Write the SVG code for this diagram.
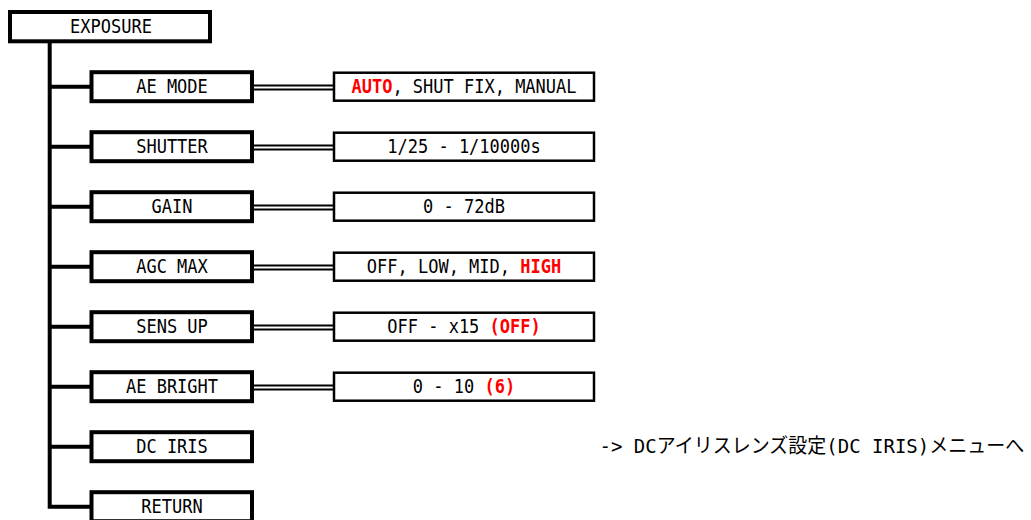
<svg xmlns="http://www.w3.org/2000/svg" width="1031" height="520" viewBox="0 0 1031 520">
<style>
.box{fill:#fff;stroke:#000;stroke-width:4}
.vbox{fill:#fff;stroke:#000;stroke-width:2.5}
.t{font-family:"DejaVu Sans Mono","Liberation Mono","Noto Sans CJK JP",monospace;font-size:20px;fill:#000}
.r{fill:#f00;font-weight:bold}
.dl{stroke:#000;stroke-width:2;fill:none}
.br{stroke:#000;stroke-width:4;fill:none}
</style>
<rect width="1031" height="520" fill="#fff"/>
<g id="connectors">
<path class="br" d="M49.7,41 V506.7 H92" stroke-linejoin="miter"/>
<line class="br" x1="49.7" y1="86.7" x2="92" y2="86.7"/>
<line class="br" x1="49.7" y1="146.7" x2="92" y2="146.7"/>
<line class="br" x1="49.7" y1="206.7" x2="92" y2="206.7"/>
<line class="br" x1="49.7" y1="266.7" x2="92" y2="266.7"/>
<line class="br" x1="49.7" y1="326.7" x2="92" y2="326.7"/>
<line class="br" x1="49.7" y1="386.7" x2="92" y2="386.7"/>
<line class="br" x1="49.7" y1="446.7" x2="92" y2="446.7"/>
<g class="dl">
<line x1="252" y1="85.4" x2="334" y2="85.4"/><line x1="252" y1="89.6" x2="334" y2="89.6"/>
<line x1="252" y1="145.4" x2="334" y2="145.4"/><line x1="252" y1="149.6" x2="334" y2="149.6"/>
<line x1="252" y1="205.4" x2="334" y2="205.4"/><line x1="252" y1="209.6" x2="334" y2="209.6"/>
<line x1="252" y1="265.4" x2="334" y2="265.4"/><line x1="252" y1="269.6" x2="334" y2="269.6"/>
<line x1="252" y1="325.4" x2="334" y2="325.4"/><line x1="252" y1="329.6" x2="334" y2="329.6"/>
<line x1="252" y1="385.4" x2="334" y2="385.4"/><line x1="252" y1="389.6" x2="334" y2="389.6"/>
</g>
</g>
<g id="exposure">
<rect class="box" x="10" y="12" width="200" height="29.3"/>
<text class="t" transform="translate(111,33.3) scale(0.85,1)" text-anchor="middle">EXPOSURE</text>
</g>
<g id="ae-mode">
<rect class="box" x="91.5" y="72.2" width="160.5" height="29"/>
<text class="t" transform="translate(172,93.3) scale(0.85,1)" text-anchor="middle">AE MODE</text>
</g>
<g id="ae-mode-val">
<rect class="vbox" x="334" y="72.7" width="260" height="28"/>
<text class="t" transform="translate(464,93.3) scale(0.85,1)" text-anchor="middle"><tspan class="r">AUTO</tspan>, SHUT FIX, MANUAL</text>
</g>
<g id="shutter">
<rect class="box" x="91.5" y="132.2" width="160.5" height="29"/>
<text class="t" transform="translate(172,153.3) scale(0.85,1)" text-anchor="middle">SHUTTER</text>
</g>
<g id="shutter-val">
<rect class="vbox" x="334" y="132.7" width="260" height="28"/>
<text class="t" transform="translate(464,153.3) scale(0.85,1)" text-anchor="middle">1/25 - 1/10000s</text>
</g>
<g id="gain">
<rect class="box" x="91.5" y="192.2" width="160.5" height="29"/>
<text class="t" transform="translate(172,213.3) scale(0.85,1)" text-anchor="middle">GAIN</text>
</g>
<g id="gain-val">
<rect class="vbox" x="334" y="192.7" width="260" height="28"/>
<text class="t" transform="translate(464,213.3) scale(0.85,1)" text-anchor="middle">0 - 72dB</text>
</g>
<g id="agc-max">
<rect class="box" x="91.5" y="252.2" width="160.5" height="29"/>
<text class="t" transform="translate(172,273.3) scale(0.85,1)" text-anchor="middle">AGC MAX</text>
</g>
<g id="agc-max-val">
<rect class="vbox" x="334" y="252.7" width="260" height="28"/>
<text class="t" transform="translate(464,273.3) scale(0.85,1)" text-anchor="middle">OFF, LOW, MID, <tspan class="r">HIGH</tspan></text>
</g>
<g id="sens-up">
<rect class="box" x="91.5" y="312.2" width="160.5" height="29"/>
<text class="t" transform="translate(172,333.3) scale(0.85,1)" text-anchor="middle">SENS UP</text>
</g>
<g id="sens-up-val">
<rect class="vbox" x="334" y="312.7" width="260" height="28"/>
<text class="t" transform="translate(464,333.3) scale(0.85,1)" text-anchor="middle">OFF - x15 <tspan class="r">(OFF)</tspan></text>
</g>
<g id="ae-bright">
<rect class="box" x="91.5" y="372.2" width="160.5" height="29"/>
<text class="t" transform="translate(172,393.3) scale(0.85,1)" text-anchor="middle">AE BRIGHT</text>
</g>
<g id="ae-bright-val">
<rect class="vbox" x="334" y="372.7" width="260" height="28"/>
<text class="t" transform="translate(464,393.3) scale(0.85,1)" text-anchor="middle">0 - 10 <tspan class="r">(6)</tspan></text>
</g>
<g id="dc-iris">
<rect class="box" x="91.5" y="432.2" width="160.5" height="29"/>
<text class="t" transform="translate(172,453.3) scale(0.85,1)" text-anchor="middle">DC IRIS</text>
</g>
<g id="dc-iris-note">
<text class="t" transform="translate(599.5,453.3) scale(0.95,1)">-&gt; DCアイリスレンズ設定(DC IRIS)メニューへ</text>
</g>
<g id="return">
<rect class="box" x="91.5" y="492.2" width="160.5" height="29"/>
<text class="t" transform="translate(172,513.3) scale(0.85,1)" text-anchor="middle">RETURN</text>
</g>
</svg>
